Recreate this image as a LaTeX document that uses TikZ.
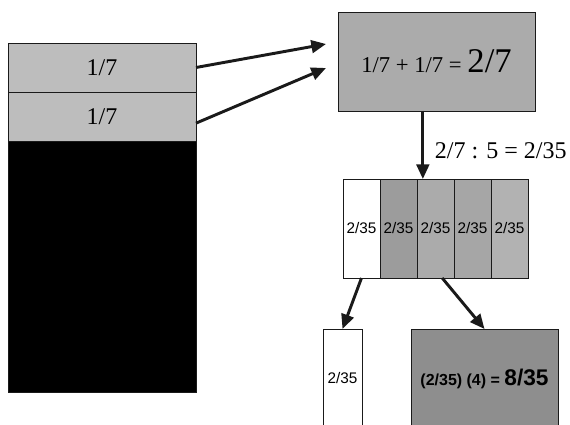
\documentclass[tikz,border=0pt]{standalone}
\usepackage{fontspec}
\setmainfont{Liberation Serif}
\setsansfont{Liberation Sans}
\usetikzlibrary{arrows.meta,positioning}
\definecolor{paleg}{HTML}{BDBDBD}
\definecolor{midg}{HTML}{ABABAB}
\definecolor{darkg}{HTML}{8E8E8E}
\definecolor{ink}{HTML}{1A1A1A}
\tikzset{part/.style={draw=ink,line width=0.7pt,inner sep=0pt,outer sep=0pt,minimum width=27.75pt,minimum height=74.25pt,font=\sffamily\fontsize{11.5}{13}\selectfont},strip/.style={draw=ink,line width=0.7pt,inner sep=0pt,outer sep=0pt,minimum width=141pt,minimum height=36.75pt,fill=paleg,font=\fontsize{18}{20}\selectfont},arr/.style={-{Triangle[length=11pt,width=9.5pt]},line width=2.2pt,draw=ink}}

\begin{document}
\begin{tikzpicture}[x=0.75pt,y=-0.75pt]
\clip (0,0) rectangle (570,424);
\node[strip] (c1) at (102,67.5) {1/7};
\node[strip] (c2) at (102,116.5) {1/7};
\node[strip,fill=black,minimum height=188.25pt] (rest) at (102,266.5) {};
\node[strip,fill=midg,minimum width=147.75pt,minimum height=74.25pt,font=\fontsize{17}{20}\selectfont] (sum) at (436.5,61.5) {1/7 + 1/7 = {\fontsize{26}{28}\selectfont 2/7}};
\foreach \i/\g in {1/0,2/39,3/33,4/35,5/30}
  \node[part,fill=black!\g] (f\i) at (324.5+37*\i,228.5) {2/35};
\node[part,fill=white,minimum width=29.25pt] (one) at (342.5,378.5) {2/35};
\node[part,fill=darkg,minimum width=110.25pt,font=\sffamily\bfseries\fontsize{12}{14}\selectfont] (four) at (484.5,378.5) {(2/35) (4) = {\fontsize{17}{20}\selectfont 8/35}};
\coordinate (t1) at (326,44);
\coordinate (t2) at (326,68);
\coordinate (d) at ([xshift=-9.5pt]f3.north);
\draw[arr] (c1.east) -- (t1);
\draw[arr] ([yshift=-5pt]c2.east) -- (t2);
\draw[arr] (d |- sum.south) -- (d) node[pos=0.58,right=8pt,inner sep=0pt,font=\fontsize{18}{20}\selectfont] (rule) {2/7 : 5 = 2/35};
\draw[arr] (f1.south) -- (one.north);
\draw[arr] ([xshift=5pt]f3.south) -- (four.north);
\end{tikzpicture}
\end{document}
